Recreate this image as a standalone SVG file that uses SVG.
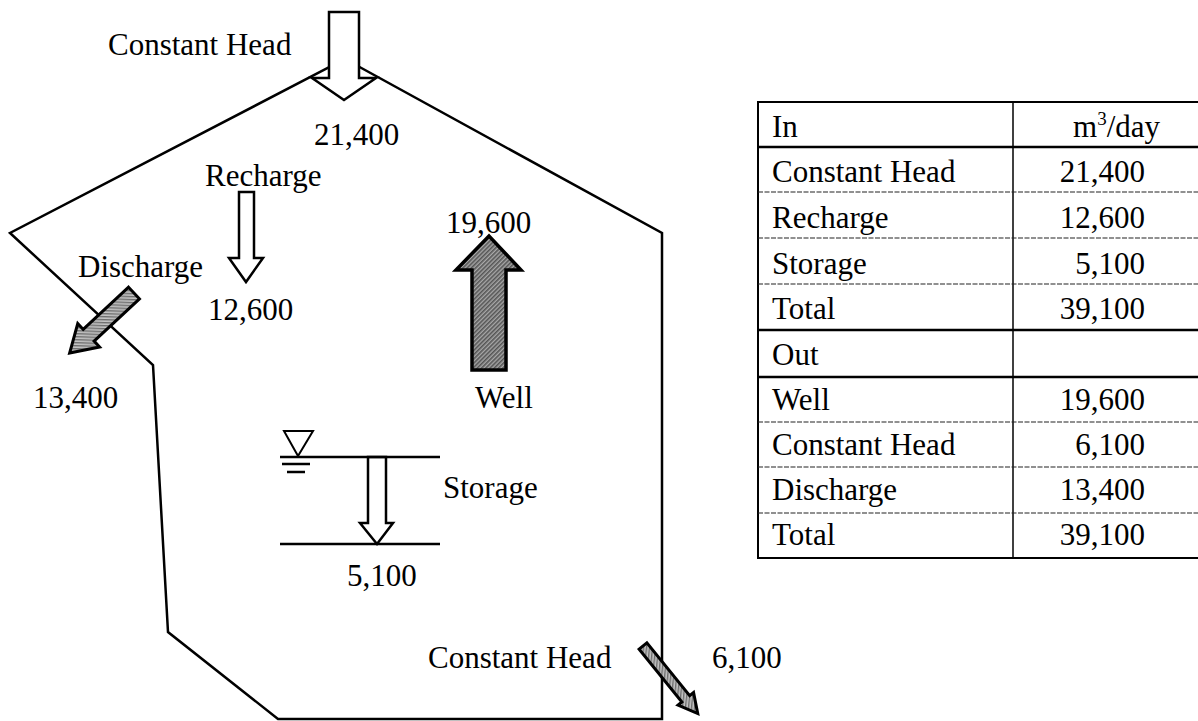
<svg xmlns="http://www.w3.org/2000/svg" width="1198" height="721" viewBox="0 0 1198 721">
<defs>
<pattern id="hatchLight" width="3" height="3" patternUnits="userSpaceOnUse" patternTransform="rotate(45)">
<rect width="3" height="3" fill="#c4c4c4"/>
<rect width="1.4" height="3" fill="#6e6e6e"/>
</pattern>
<pattern id="hatchDark" width="3" height="3" patternUnits="userSpaceOnUse" patternTransform="rotate(45)">
<rect width="3" height="3" fill="#a8a8a8"/>
<rect width="1.6" height="3" fill="#555"/>
</pattern>
</defs>
<style>
text{font-family:"Liberation Serif","Times New Roman",serif;font-size:31px;fill:#000}
.edge{fill:none;stroke:#000;stroke-width:2.5;stroke-linejoin:miter}
.open{fill:#fff;stroke:#000;stroke-width:2.5;stroke-linejoin:miter}
.grey{fill:url(#hatchLight);stroke:#000;stroke-width:3;stroke-linejoin:miter}
.dark{fill:url(#hatchDark);stroke:#000;stroke-width:3.5;stroke-linejoin:miter}
.wl{stroke:#000;stroke-width:2.5}
.tb{fill:none;stroke:#000;stroke-width:2}
.thick{stroke:#000;stroke-width:2.5}
.thin{stroke:#222;stroke-width:1.2;stroke-dasharray:5 1.5}
.num{text-anchor:end}
</style>

<g id="domain">
<polygon class="edge" points="345,59 662,233 662,719 278,719 168,632 153,365 10,233"/>
</g>

<g id="connectors">
<!-- constant head inflow at top -->
<polygon class="open" points="329,12 359,12 359,78 376,78 344,100 312,78 329,78"/>
<!-- recharge -->
<polygon class="open" points="239,192 254,192 254,258 263,258 246,282 229,258 239,258"/>
<!-- storage -->
<polygon class="open" points="368,457 386,457 386,523 393,523 377,544 360,523 368,523"/>
<!-- well (up) -->
<polygon class="dark" points="472,370 506,370 506,270 521,270 489,236 456,270 472,270"/>
<!-- discharge -->
<polygon class="grey" transform="translate(134,293) rotate(47)" points="-8,0 8,0 8,62 16,62 0,88 -16,62 -8,62"/>
<!-- constant head outflow -->
<polygon class="grey" transform="translate(643,646) rotate(-39)" points="-5,0 5,0 5,68 10,68 0,87 -10,68 -5,68"/>
</g>

<g id="storage-symbol">
<line class="wl" x1="280" y1="457" x2="440" y2="457"/>
<line class="wl" x1="280" y1="544" x2="440" y2="544"/>
<polygon fill="#fff" stroke="#000" stroke-width="2" points="284,431 313,431 298,456"/>
<line class="wl" x1="282" y1="464" x2="310" y2="464"/>
<line class="wl" x1="287" y1="472" x2="305" y2="472"/>
</g>

<g id="labels">
<text x="108" y="55">Constant Head</text>
<text x="314" y="145">21,400</text>
<text x="205" y="186">Recharge</text>
<text x="78" y="277">Discharge</text>
<text x="208" y="320">12,600</text>
<text x="33" y="408">13,400</text>
<text x="446" y="233">19,600</text>
<text x="475" y="408">Well</text>
<text x="443" y="498">Storage</text>
<text x="347" y="586">5,100</text>
<text x="428" y="668">Constant Head</text>
<text x="712" y="668">6,100</text>
</g>

<g id="table">
<rect class="tb" x="758" y="102" width="444" height="456"/>
<line x1="1013" y1="102" x2="1013" y2="558" stroke="#000" stroke-width="1.5"/>
<line class="thick" x1="758" y1="147" x2="1200" y2="147"/>
<line class="thin" x1="758" y1="192" x2="1200" y2="192"/>
<line class="thin" x1="758" y1="238" x2="1200" y2="238"/>
<line class="thin" x1="758" y1="284" x2="1200" y2="284"/>
<line class="thick" x1="758" y1="330" x2="1200" y2="330"/>
<line class="thick" x1="758" y1="377" x2="1200" y2="377" stroke-width="1.8"/>
<line class="thin" x1="758" y1="422" x2="1200" y2="422"/>
<line class="thin" x1="758" y1="467" x2="1200" y2="467"/>
<line class="thin" x1="758" y1="513" x2="1200" y2="513"/>

<text x="772" y="137">In</text>
<text x="1073" y="137">m<tspan font-size="19" dy="-12">3</tspan><tspan dy="12">/day</tspan></text>
<text x="772" y="182">Constant Head</text>
<text class="num" x="1145" y="182">21,400</text>
<text x="772" y="228">Recharge</text>
<text class="num" x="1145" y="228">12,600</text>
<text x="772" y="274">Storage</text>
<text class="num" x="1145" y="274">5,100</text>
<text x="772" y="319">Total</text>
<text class="num" x="1145" y="319">39,100</text>
<text x="772" y="365">Out</text>
<text x="772" y="410">Well</text>
<text class="num" x="1145" y="410">19,600</text>
<text x="772" y="455">Constant Head</text>
<text class="num" x="1145" y="455">6,100</text>
<text x="772" y="500">Discharge</text>
<text class="num" x="1145" y="500">13,400</text>
<text x="772" y="545">Total</text>
<text class="num" x="1145" y="545">39,100</text>
</g>
</svg>
